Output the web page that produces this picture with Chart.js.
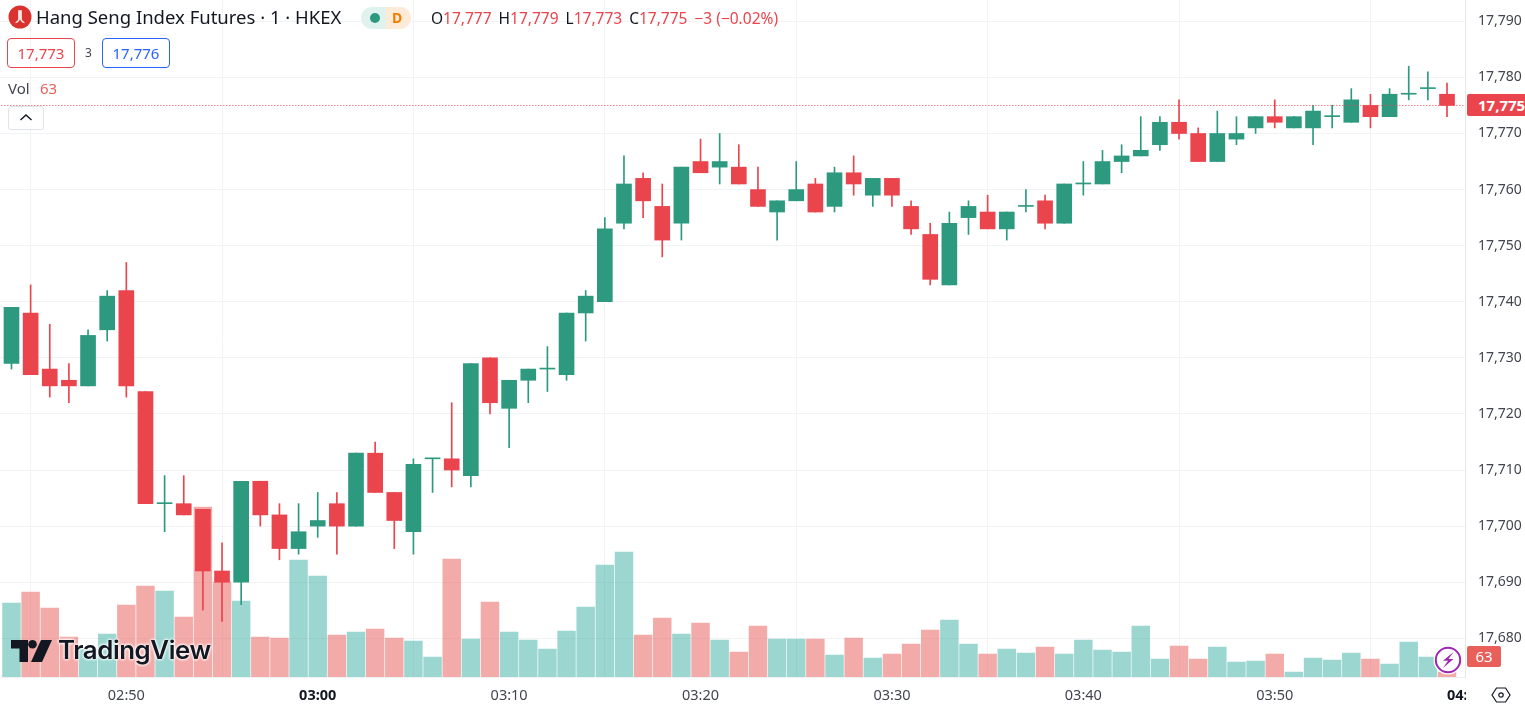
<!DOCTYPE html>
<html><head><meta charset="utf-8">
<script src="https://cdn.jsdelivr.net/npm/chart.js@4/dist/chart.umd.min.js"></script>
<style>
html,body{margin:0;padding:0;background:#fff;overflow:hidden}
body{width:1525px;height:707px;position:relative;font-family:"Noto Sans",sans-serif;color:#131722}
canvas{position:absolute;left:0;top:0}
.o{position:absolute;white-space:nowrap;line-height:1}
.box{position:absolute;box-sizing:border-box;top:38px;width:68px;height:30px;border:1px solid;border-radius:4px;font-size:15px;text-align:center;line-height:28px}
#ohlc span{margin-left:7px;color:#131722}
#ohlc span:first-child{margin-left:0}
</style></head><body>
<canvas id="c" width="1525" height="707"></canvas>

<svg class="o" style="left:8px;top:5px" width="24" height="24" viewBox="0 0 24 24"><circle cx="12" cy="12" r="11.500" fill="#D9322F"/><path d="M10.600 5.500v7.500c0 2-1.100 3.600-3 4.600 1.900-.2 4-1.400 4-4.600V5.500zM13.400 5.500v7.500c0 2 1.100 3.600 3 4.600-1.900-.2-4-1.400-4-4.600V5.500z" fill="#fff" stroke="#fff" stroke-width=".7"/></svg>
<div class="o" style="left:36px;top:8px;font-size:18.500px">Hang Seng Index Futures · 1 · HKEX</div>
<div class="o" style="left:361px;top:7px;width:25px;height:22px;background:#E0F2EE;border-radius:11px 0 0 11px"></div>
<div class="o" style="left:386px;top:7px;width:25px;height:22px;background:#FDEBD7;border-radius:0 11px 11px 0"></div>
<div class="o" style="left:370px;top:13px;width:10px;height:10px;background:#2D9A80;border-radius:50%"></div>
<div class="o" style="left:392px;top:11px;font-size:14px;font-weight:700;color:#F57C00">D</div>
<div class="o" id="ohlc" style="left:431px;top:11px;font-size:15.500px;color:#EA444D"></div>

<div class="box" style="left:7px;border-color:#EA444D;color:#EA444D" id="bid"></div>
<div class="o" style="left:85px;top:47px;font-size:12px;color:#42454e" id="spr"></div>
<div class="box" style="left:102px;border-color:#2962FF;color:#2962FF" id="ask"></div>

<div class="o" style="left:8px;top:81px;font-size:15px;color:#42454e">Vol</div>
<div class="o" id="volLbl" style="left:40px;top:81px;font-size:15px;color:#E9605A"></div>

<div class="o" style="left:8px;top:106px;width:36px;height:24px;box-sizing:border-box;border:1px solid #E0E3EB;border-radius:3px;background:#fff"></div>
<svg class="o" style="left:19px;top:113px" width="14" height="9"><path d="M1.500 7L7 2l5.500 5" fill="none" stroke="#131722" stroke-width="1.400"/></svg>

<svg class="o" style="left:11px;top:640px" width="42" height="22" viewBox="0 0 42 22"><path d="M0 0H17V22H8.500V8.500H0Z" fill="#131722"/><circle cx="21.500" cy="4.300" r="4.300" fill="#131722"/><path d="M30 0H41L31 22H20Z" fill="#131722"/></svg>
<div class="o" style="left:58px;top:637px;font-family:Inter,sans-serif;font-size:25.800px;font-weight:600;letter-spacing:-.4px;color:#131722;text-shadow:0 0 3px #fff,0 0 3px #fff,0 0 3px #fff">TradingView</div>

<svg class="o" style="left:1433px;top:645px" width="30" height="30" viewBox="0 0 30 30"><circle cx="15" cy="15" r="14.500" fill="#fff"/><circle cx="15" cy="15" r="12.200" fill="#fff" stroke="#9C27B0" stroke-width="2"/><path d="M20.500 7L10 15.800h5L10 23l10.500-9h-5z" fill="#9C27B0"/></svg>

<div class="o" id="priceBox" style="left:1467px;width:58px;height:22px;background:#EA444D;border-radius:2px 0 0 2px;color:#fff;font-size:15px;font-weight:700;box-sizing:border-box;padding-left:11px;line-height:22px;overflow:hidden"></div>
<div class="o" style="left:1467px;top:646px;width:34px;height:21px;background:#E9605A;border-radius:2px;color:#fff;font-size:15px;text-align:center;line-height:21px" id="volBox"></div>
<div class="o" style="left:1447px;top:687px;width:19px;overflow:hidden;font-size:14.500px;font-weight:700;color:#131722">04:00</div>
<svg class="o" style="left:1491px;top:685px" width="20" height="20" viewBox="0 0 20 20"><path d="M5.500 3h9L19 10l-4.500 7h-9L1 10z" fill="none" stroke="#131722" stroke-width="1.200"/><circle cx="10" cy="10" r="2.200" fill="none" stroke="#131722" stroke-width="1.200"/></svg>

<script>
const firstMinute = 164;
const opens = [17729,17738,17728,17726,17725,17735,17742,17724,17704,17704,17703,17692,17690,17708,17702,17696,17700,17704,17700,17713,17706,17699,17712,17712,17709,17730,17721,17726,17728,17727,17738,17740,17754,17762,17757,17754,17765,17764,17764,17760,17756,17758,17761,17757,17763,17759,17762,17757,17752,17743,17755,17756,17753,17757,17758,17754,17761,17761,17765,17766,17768,17772,17770,17765,17769,17771,17773,17771,17771,17773,17772,17775,17773,17777,17778,17777];
const highs = [17739,17743,17736,17729,17735,17742,17747,17724,17709,17709,17703,17697,17708,17708,17704,17704,17706,17706,17713,17715,17706,17712,17712,17722,17729,17730,17726,17728,17732,17738,17742,17755,17766,17763,17761,17764,17769,17770,17768,17764,17758,17765,17762,17764,17766,17762,17762,17758,17754,17756,17758,17759,17756,17760,17759,17761,17765,17767,17768,17773,17773,17776,17771,17774,17773,17773,17776,17773,17775,17775,17778,17777,17778,17782,17781,17779];
const lows = [17728,17727,17723,17722,17725,17733,17723,17704,17699,17702,17685,17683,17686,17700,17694,17695,17698,17695,17700,17706,17696,17695,17706,17707,17707,17720,17714,17722,17724,17726,17733,17740,17753,17755,17748,17751,17763,17761,17761,17757,17751,17758,17756,17756,17759,17757,17757,17752,17743,17743,17752,17753,17751,17756,17753,17754,17759,17761,17763,17766,17767,17769,17765,17765,17768,17770,17771,17771,17768,17771,17772,17771,17773,17776,17776,17773];
const closes = [17739,17727,17725,17725,17734,17741,17725,17704,17704,17702,17692,17690,17708,17702,17696,17699,17701,17700,17713,17706,17701,17711,17712,17710,17729,17722,17726,17728,17728,17738,17741,17753,17761,17758,17751,17764,17763,17765,17761,17757,17758,17760,17756,17763,17761,17762,17759,17753,17744,17754,17757,17753,17756,17757,17754,17761,17761,17765,17766,17767,17772,17770,17765,17770,17770,17773,17772,17773,17774,17773,17776,17773,17777,17777,17778,17775];
const volumes = [132,143,127,98,86,101,130,149,144,118,228,153,134,98,97,175,159,100,103,106,97,94,78,176,96,133,103,95,86,104,128,170,183,100,117,101,112,95,83,109,96,96,96,80,97,77,81,91,105,115,91,81,86,82,88,81,95,85,83,109,76,89,76,88,73,74,81,63,77,75,82,76,71,93,78,63];
const priceRange = [17673.1, 17793.8];
const priceStep = 10;
const bid = 17773, ask = 17776;

const UP = '#2D9A80', DOWN = '#EA444D';
const VOL_UP = 'rgba(38,166,154,.46)', VOL_DOWN = 'rgba(230,83,80,.49)';
const fmt = v => Math.round(v).toLocaleString('en-US');
const clock = m => String(Math.floor(m/60)).padStart(2,'0') + ':' + String(m%60).padStart(2,'0');
const isUp = i => closes[i] >= opens[i];
const candleColor = c => isUp(c.dataIndex) ? UP : DOWN;
const volColor = c => isUp(c.dataIndex) ? VOL_UP : VOL_DOWN;
const minute = i => firstMinute + i;
const last = opens.length - 1;
const isBold = c => c.tick && c.tick.value === 180;
const noPad = s => { s.paddingTop=0; s.paddingBottom=0; s.paddingLeft=0; s.paddingRight=0; };

const chart = new Chart(document.getElementById('c'), {
  type: 'bar',
  data: { datasets: [
    { type:'line', order:0, data:[{x:firstMinute-1,y:closes[last]},{x:firstMinute+77,y:closes[last]}], borderColor:DOWN, borderWidth:1, borderDash:[1,2], pointRadius:0, yAxisID:'y' },
    { order:1, grouped:false, barThickness:15, minBarLength:1, borderWidth:0, yAxisID:'y', backgroundColor:candleColor,
      data: opens.map((o,i)=>({x:minute(i), y:[o,closes[i]]})) },
    { order:2, grouped:false, barThickness:1, borderWidth:0, yAxisID:'y', backgroundColor:candleColor,
      data: lows.map((l,i)=>({x:minute(i), y:[l,highs[i]]})) },
    { order:3, grouped:false, barThickness:17.8, borderWidth:0, yAxisID:'vol', backgroundColor:volColor,
      data: volumes.map((v,i)=>({x:minute(i), y:v})) }
  ]},
  options: {
    responsive:false, animation:false, events:[],
    layout:{padding:0},
    plugins:{legend:{display:false},tooltip:{enabled:false}},
    scales:{
      x:{ type:'linear', offset:false, min:firstMinute-0.6, max:firstMinute+75.94,
        afterFit:s=>{s.height=30; noPad(s);},
        border:{color:'#EEF0F3'},
        grid:{color:'#F2F3F5',drawTicks:false},
        ticks:{ stepSize:10, includeBounds:false, autoSkip:false, maxRotation:0, padding:10,
          callback:v=>clock(v),
          color:c=>isBold(c)?'#131722':'#42454e',
          font:c=>({family:'"Noto Sans"',size:14.5,weight:isBold(c)?'700':'400'}) } },
      y:{ type:'linear', position:'right', min:priceRange[0], max:priceRange[1],
        afterFit:s=>{s.width=60; noPad(s);},
        border:{color:'#E6E8EC'},
        grid:{color:'#F2F3F5',drawTicks:false},
        ticks:{ stepSize:priceStep, includeBounds:false, autoSkip:false, padding:13, color:'#42454e',
          callback:v=>fmt(v), font:{family:'"Noto Sans"',size:14} } },
      vol:{ type:'linear', display:false, min:58, max:735, afterFit:noPad }
    }
  }
});

const o=opens[last],h=highs[last],l=lows[last],c=closes[last],chg=c-closes[last-1];
const lab=t=>`<span>${t}</span>`;
document.getElementById('ohlc').innerHTML =
  `${lab('O')}${fmt(o)}${lab('H')}${fmt(h)}${lab('L')}${fmt(l)}${lab('C')}${fmt(c)}<i style="font-style:normal;margin-left:7px">−${Math.abs(chg)} (−${(Math.abs(chg)/closes[last-1]*100).toFixed(2)}%)</i>`;
document.getElementById('volLbl').textContent = volumes[last];
document.getElementById('volBox').textContent = volumes[last];
document.getElementById('bid').textContent = fmt(bid);
document.getElementById('ask').textContent = fmt(ask);
document.getElementById('spr').textContent = ask-bid;
const pb=document.getElementById('priceBox');
pb.textContent=fmt(c);
pb.style.top=(chart.scales.y.getPixelForValue(c)-11)+'px';
</script>
</body></html>
